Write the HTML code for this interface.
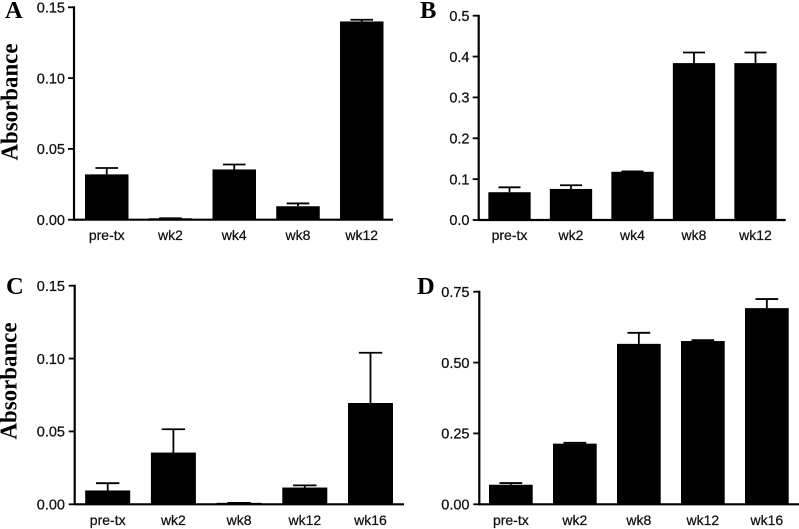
<!DOCTYPE html>
<html lang="en">
<head>
<meta charset="utf-8">
<title>Absorbance bar charts</title>
<style>
html,body{margin:0;padding:0;background:#fff;}
#figure{display:block;width:799px;height:529px;}
text{fill:#111;}
.tick-label{font:14.5px "Liberation Sans",sans-serif;text-anchor:end;stroke:#111;stroke-width:0.25px;}
.cat-label{font:14px "Liberation Sans",sans-serif;text-anchor:middle;stroke:#111;stroke-width:0.25px;}
.panel-letter{font:bold 24.5px "Liberation Serif",serif;fill:#000;}
.axis-title{font:bold 24px "Liberation Serif",serif;fill:#000;text-anchor:middle;}
</style>
</head>
<body>
<svg id="figure" xmlns="http://www.w3.org/2000/svg" width="799" height="529" viewBox="0 0 799 529">
  <text class="panel-letter" x="5" y="18">A</text>
  <text class="panel-letter" x="420" y="18">B</text>
  <text class="panel-letter" x="6" y="294">C</text>
  <text class="panel-letter" x="417" y="294">D</text>
  <text class="axis-title" transform="translate(17.5,102) rotate(-90)" textLength="117" lengthAdjust="spacingAndGlyphs">Absorbance</text>
  <text class="axis-title" transform="translate(16.5,381) rotate(-90)" textLength="117" lengthAdjust="spacingAndGlyphs">Absorbance</text>
</svg>
<script>
// Panel A
const categoriesA = ['pre-tx', 'wk2', 'wk4', 'wk8', 'wk12'];
const valuesA = [0.032, 0.001, 0.0355, 0.0095, 0.14];
const errorTopsA = [0.0365, 0.001, 0.039, 0.0115, 0.1412];
const ticksA = ['0.00', '0.05', '0.10', '0.15'];

// Panel B
const categoriesB = ['pre-tx', 'wk2', 'wk4', 'wk8', 'wk12'];
const valuesB = [0.068, 0.076, 0.118, 0.384, 0.384];
const errorTopsB = [0.08, 0.085, 0.119, 0.41, 0.41];
const ticksB = ['0.0', '0.1', '0.2', '0.3', '0.4', '0.5'];

// Panel C
const categoriesC = ['pre-tx', 'wk2', 'wk8', 'wk12', 'wk16'];
const valuesC = [0.0095, 0.0355, 0.001, 0.0115, 0.0695];
const errorTopsC = [0.0145, 0.0515, 0.001, 0.013, 0.104];
const ticksC = ['0.00', '0.05', '0.10', '0.15'];

// Panel D
const categoriesD = ['pre-tx', 'wk2', 'wk8', 'wk12', 'wk16'];
const valuesD = [0.069, 0.214, 0.566, 0.576, 0.692];
const errorTopsD = [0.075, 0.217, 0.605, 0.579, 0.724];
const ticksD = ['0.00', '0.25', '0.50', '0.75'];

const SVG_NS = 'http://www.w3.org/2000/svg';
const figure = document.getElementById('figure');

function line(parent, x1, y1, x2, y2, width) {
  const el = document.createElementNS(SVG_NS, 'line');
  el.setAttribute('x1', x1);
  el.setAttribute('y1', y1);
  el.setAttribute('x2', x2);
  el.setAttribute('y2', y2);
  el.setAttribute('stroke', '#000');
  el.setAttribute('stroke-width', width);
  parent.appendChild(el);
  return el;
}

function drawPanel(id, layout, categories, values, errorTops, ticks) {
  const g = document.createElementNS(SVG_NS, 'g');
  
  
  figure.appendChild(g);

  const yMax = parseFloat(ticks[ticks.length - 1]);
  const yScale = v => layout.y0 - (v / yMax) * (layout.y0 - layout.yTop);
  const xScale = i => layout.firstCenter + i * layout.step;

  values.forEach((value, i) => {
    const cx = xScale(i);
    const top = yScale(value);
    const errTop = yScale(errorTops[i]);
    const capHalf = layout.barWidth * 0.26;

    const stem = line(g, cx, top, cx, errTop, 1.8);
    
    

    const cap = line(g, cx - capHalf, errTop, cx + capHalf, errTop, 1.8);
    
    

    const bar = document.createElementNS(SVG_NS, 'rect');
    bar.setAttribute('x', cx - layout.barWidth / 2);
    bar.setAttribute('y', top);
    bar.setAttribute('width', layout.barWidth);
    bar.setAttribute('height', Math.max(layout.y0 - top, 0));
    bar.setAttribute('fill', '#000');
    
    
    g.appendChild(bar);

    const label = document.createElementNS(SVG_NS, 'text');
    label.setAttribute('class', 'cat-label');
    label.setAttribute('x', cx);
    label.setAttribute('y', layout.labelY);
    
    
    label.textContent = categories[i];
    g.appendChild(label);
  });

  const yAxis = line(g, layout.xAxis, layout.yTop - 1, layout.xAxis, layout.y0 + 1, 2.2);
  
  

  const xAxis = line(g, layout.xAxis, layout.y0, layout.xEnd, layout.y0, 2.2);
  
  

  ticks.forEach(t => {
    const y = yScale(parseFloat(t));
    const tick = line(g, layout.xAxis - 6, y, layout.xAxis, y, 1.8);
    
    

    const label = document.createElementNS(SVG_NS, 'text');
    label.setAttribute('class', 'tick-label');
    label.setAttribute('x', layout.tickLabelX);
    label.setAttribute('y', y + 5.2);
    
    
    label.textContent = t;
    g.appendChild(label);
  });
}

drawPanel('a', {xAxis: 74, xEnd: 393, y0: 219.7, yTop: 7.3, firstCenter: 106.75, step: 63.75, barWidth: 43.5, labelY: 240, tickLabelX: 65},
  categoriesA, valuesA, errorTopsA, ticksA);
drawPanel('b', {xAxis: 478.7, xEnd: 785.7, y0: 220, yTop: 15.7, firstCenter: 509.5, step: 61.5, barWidth: 42.3, labelY: 240, tickLabelX: 469.5},
  categoriesB, valuesB, errorTopsB, ticksB);
drawPanel('c', {xAxis: 74.7, xEnd: 404, y0: 504.3, yTop: 285.7, firstCenter: 107.7, step: 65.7, barWidth: 45, labelY: 525, tickLabelX: 65},
  categoriesC, valuesC, errorTopsC, ticksC);
drawPanel('d', {xAxis: 479.3, xEnd: 799, y0: 504.3, yTop: 291.7, firstCenter: 510.85, step: 64, barWidth: 43.7, labelY: 525, tickLabelX: 469.5},
  categoriesD, valuesD, errorTopsD, ticksD);
</script>
</body>
</html>
